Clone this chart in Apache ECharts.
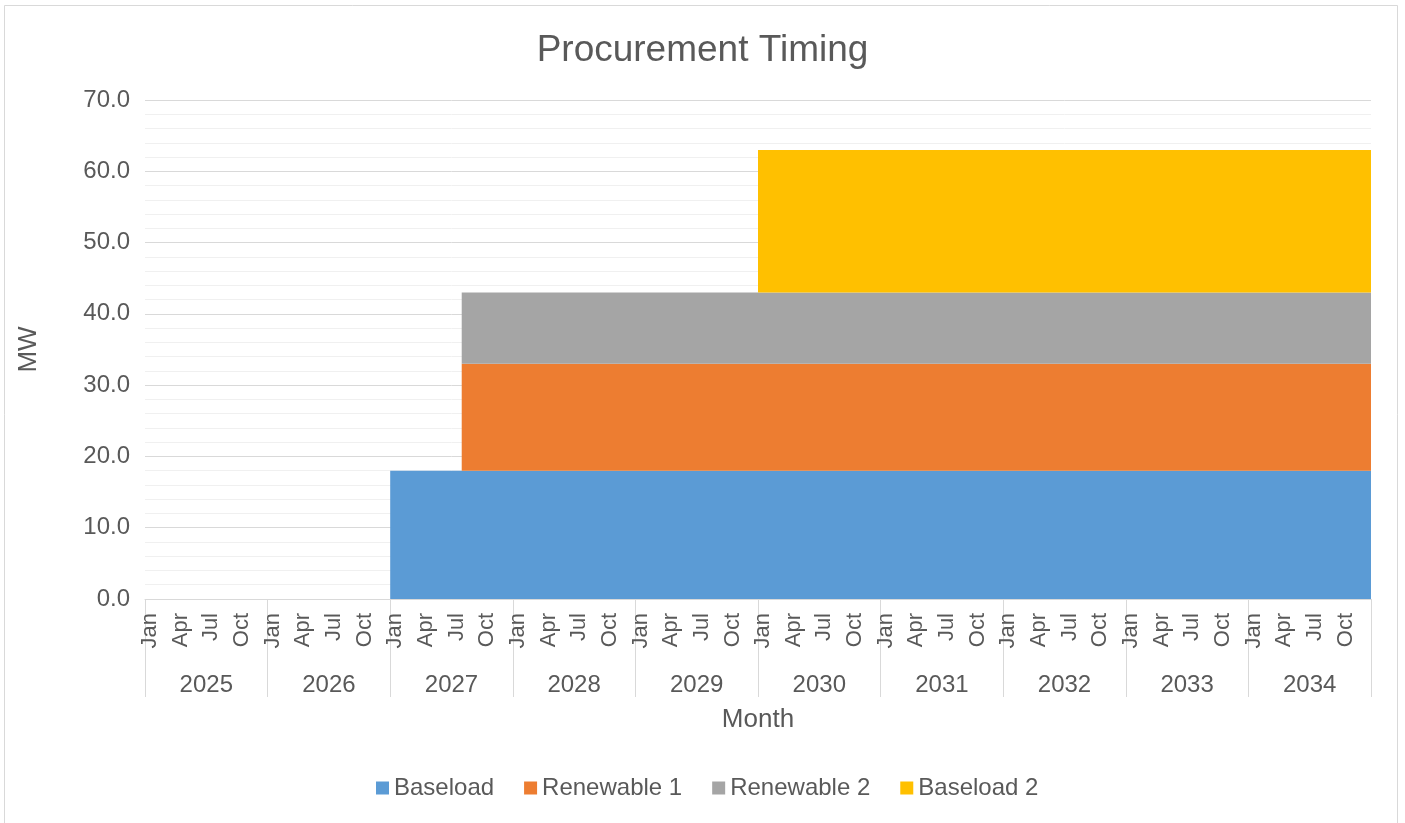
<!DOCTYPE html>
<html><head><meta charset="utf-8">
<script src="https://cdn.jsdelivr.net/npm/echarts@6/dist/echarts.min.js"></script>
<style>html,body{margin:0;padding:0;background:#fff}#c{width:1405px;height:823px}</style>
</head><body><div id="c"></div>
<script>
const years = ['2025','2026','2027','2028','2029','2030','2031','2032','2033','2034'];
const monthNames = ['Jan','Feb','Mar','Apr','May','Jun','Jul','Aug','Sep','Oct','Nov','Dec'];
const yTicks = [0,10,20,30,40,50,60,70];

// monthly MW values, one row per year (Jan..Dec), 2025..2034
const baseload = [
  0,0,0,0,0,0,0,0,0,0,0,0,
  0,0,0,0,0,0,0,0,0,0,0,0,
  18,18,18,18,18,18,18,18,18,18,18,18,
  18,18,18,18,18,18,18,18,18,18,18,18,
  18,18,18,18,18,18,18,18,18,18,18,18,
  18,18,18,18,18,18,18,18,18,18,18,18,
  18,18,18,18,18,18,18,18,18,18,18,18,
  18,18,18,18,18,18,18,18,18,18,18,18,
  18,18,18,18,18,18,18,18,18,18,18,18,
  18,18,18,18,18,18,18,18,18,18,18,18
];
const renewable1 = [
  0,0,0,0,0,0,0,0,0,0,0,0,
  0,0,0,0,0,0,0,0,0,0,0,0,
  0,0,0,0,0,0,0,15,15,15,15,15,
  15,15,15,15,15,15,15,15,15,15,15,15,
  15,15,15,15,15,15,15,15,15,15,15,15,
  15,15,15,15,15,15,15,15,15,15,15,15,
  15,15,15,15,15,15,15,15,15,15,15,15,
  15,15,15,15,15,15,15,15,15,15,15,15,
  15,15,15,15,15,15,15,15,15,15,15,15,
  15,15,15,15,15,15,15,15,15,15,15,15
];
const renewable2 = [
  0,0,0,0,0,0,0,0,0,0,0,0,
  0,0,0,0,0,0,0,0,0,0,0,0,
  0,0,0,0,0,0,0,10,10,10,10,10,
  10,10,10,10,10,10,10,10,10,10,10,10,
  10,10,10,10,10,10,10,10,10,10,10,10,
  10,10,10,10,10,10,10,10,10,10,10,10,
  10,10,10,10,10,10,10,10,10,10,10,10,
  10,10,10,10,10,10,10,10,10,10,10,10,
  10,10,10,10,10,10,10,10,10,10,10,10,
  10,10,10,10,10,10,10,10,10,10,10,10
];
const baseload2 = [
  0,0,0,0,0,0,0,0,0,0,0,0,
  0,0,0,0,0,0,0,0,0,0,0,0,
  0,0,0,0,0,0,0,0,0,0,0,0,
  0,0,0,0,0,0,0,0,0,0,0,0,
  0,0,0,0,0,0,0,0,0,0,0,0,
  20,20,20,20,20,20,20,20,20,20,20,20,
  20,20,20,20,20,20,20,20,20,20,20,20,
  20,20,20,20,20,20,20,20,20,20,20,20,
  20,20,20,20,20,20,20,20,20,20,20,20,
  20,20,20,20,20,20,20,20,20,20,20,20
];

const months = [];
years.forEach(y => monthNames.forEach(m => months.push(m)));
// month boundaries for the hidden drawing axis (start of each month + end of last)
const boundaries = months.map((m, i) => 'b' + i).concat(['end']);

// step 'end': each month's value holds from its start boundary to the next
function toPts(arr) {
  return arr.concat([arr[arr.length - 1]]);
}

const FONT = '"Liberation Sans", Arial, sans-serif';
const TXT = '#595959';
const GRID = '#d9d9d9';

function areaSeries(name, color, arr) {
  return {
    type: 'line', name: name, xAxisIndex: 0, yAxisIndex: 0,
    stack: 'total', step: 'end', symbol: 'none', showSymbol: false,
    lineStyle: { width: 0, opacity: 0 },
    itemStyle: { color: color },
    areaStyle: { color: color, opacity: 1 },
    emphasis: { disabled: true },
    data: toPts(arr)
  };
}

const chart = echarts.init(document.getElementById('c'), null, { renderer: 'canvas' });
chart.setOption({
  backgroundColor: '#fff',
  animation: false,
  textStyle: { fontFamily: FONT },
  title: {
    text: 'Procurement Timing', left: 'center', top: 27,
    textStyle: { fontFamily: FONT, fontSize: 37, fontWeight: 'normal', color: TXT }
  },
  graphic: [{
    type: 'rect', silent: true, z: -1,
    shape: { x: 4.5, y: 5.5, width: 1393, height: 840 },
    style: { fill: 'none', stroke: GRID, lineWidth: 1 }
  }],
  legend: {
    bottom: 18, left: 371, icon: 'rect', itemWidth: 13, itemHeight: 13, itemGap: 30,
    textStyle: { fontFamily: FONT, fontSize: 24, color: TXT },
    data: ['Baseload', 'Renewable 1', 'Renewable 2', 'Baseload 2']
  },
  grid: { left: 145, right: 34, top: 100, bottom: 224, containLabel: false },
  xAxis: [
    { type: 'category', data: boundaries, boundaryGap: false, show: false, position: 'bottom' },
    {
      type: 'category', data: months, position: 'bottom', boundaryGap: true,
      axisLine: { show: true, lineStyle: { color: GRID, width: 1 } },
      axisTick: { show: false },
      splitLine: { show: false },
      axisLabel: {
        rotate: 90, interval: (idx) => idx % 3 === 0, margin: 14,
        fontFamily: FONT, fontSize: 22, color: TXT
      }
    },
    {
      type: 'category', data: years, position: 'bottom', boundaryGap: true,
      axisLine: { show: false },
      axisTick: { show: true, length: 98, lineStyle: { color: GRID, width: 1 } },
      splitLine: { show: false },
      axisLabel: { margin: 74, fontFamily: FONT, fontSize: 24, color: TXT },
      name: 'Month', nameLocation: 'middle', nameGap: 108,
      nameTextStyle: { fontFamily: FONT, fontSize: 26, color: TXT }
    }
  ],
  yAxis: {
    type: 'value', min: yTicks[0], max: yTicks[yTicks.length - 1], interval: 10,
    axisLine: { show: false }, axisTick: { show: false },
    axisLabel: { formatter: v => v.toFixed(1), fontFamily: FONT, fontSize: 24, color: TXT, margin: 15 },
    splitLine: { show: true, lineStyle: { color: GRID, width: 1 } },
    minorTick: { show: false, splitNumber: 5 },
    minorSplitLine: { show: true, lineStyle: { color: '#f0f0f0', width: 1 } },
    name: 'MW', nameLocation: 'middle', nameGap: 103, nameRotate: 90,
    nameTextStyle: { fontFamily: FONT, fontSize: 26, color: TXT }
  },
  series: [
    areaSeries('Baseload', '#5B9BD5', baseload),
    areaSeries('Renewable 1', '#ED7D31', renewable1),
    areaSeries('Renewable 2', '#A5A5A5', renewable2),
    areaSeries('Baseload 2', '#FFC000', baseload2)
  ]
});
</script></body></html>
